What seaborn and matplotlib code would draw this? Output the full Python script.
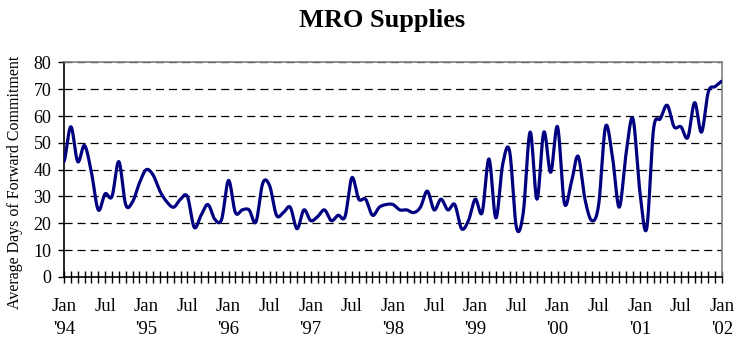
import numpy as np
import pandas as pd
import matplotlib
matplotlib.use("Agg")
import matplotlib.pyplot as plt
import seaborn as sns

# ---- data (monthly, Jan 1994 .. Jan 2002) ----
values_1994 = [43, 56, 43, 49, 39, 25, 31, 30, 43, 27, 28, 35]
values_1995 = [40, 38, 32, 28, 26, 29, 30, 18.5, 23, 27, 21.5, 21.5]
values_1996 = [36, 24, 25, 25, 20.5, 35, 34, 23, 24, 26, 18, 25]
values_1997 = [21, 22.5, 25, 21, 23, 22.5, 37, 29, 29, 23, 26, 27]
values_1998 = [27, 25, 25, 24, 26, 32, 25, 29, 25, 27, 18, 21]
values_1999 = [29, 24, 44, 22, 42, 47, 18.5, 24, 54, 29, 54, 39]
values_2000 = [56, 27.5, 35, 45, 29, 21, 27, 56, 45, 26, 46, 59]
values_2001 = [32, 18, 55, 59, 64, 56, 56, 52, 65, 54, 69, 71]
values_2002 = [73]

years = ["'94", "'95", "'96", "'97", "'98", "'99", "'00", "'01", "'02"]

values = (values_1994 + values_1995 + values_1996 + values_1997 + values_1998
          + values_1999 + values_2000 + values_2001 + values_2002)
months = np.arange(len(values))

# smoothed rendering of the line (like a spreadsheet "smoothed line")
def catmull_rom(x, y, n=20):
    xs, ys = [], []
    N = len(y)
    for i in range(N - 1):
        p0 = y[max(i - 1, 0)]
        p1 = y[i]
        p2 = y[i + 1]
        p3 = y[min(i + 2, N - 1)]
        t = np.linspace(0, 1, n, endpoint=False)
        yy = 0.5 * ((2 * p1) + (-p0 + p2) * t + (2 * p0 - 5 * p1 + 4 * p2 - p3) * t ** 2
                    + (-p0 + 3 * p1 - 3 * p2 + p3) * t ** 3)
        xx = x[i] + (x[i + 1] - x[i]) * t
        xs.append(xx)
        ys.append(yy)
    xs.append([x[-1]])
    ys.append([y[-1]])
    return np.concatenate(xs), np.concatenate(ys)

sx, sy = catmull_rom(months.astype(float), np.array(values, dtype=float))
df = pd.DataFrame({"month": sx, "value": sy})

sns.set_style("white")
plt.rcParams["font.family"] = ["Liberation Serif", "DejaVu Serif"]
plt.rcParams["lines.scale_dashes"] = False
plt.rcParams["text.color"] = "black"
plt.rcParams["xtick.color"] = "black"
plt.rcParams["ytick.color"] = "black"
plt.rcParams["axes.labelcolor"] = "black"

fig = plt.figure(figsize=(7.44, 3.39), dpi=100)
ax = fig.add_axes([0.086, 0.183, 0.8845, 0.633])

# grid
for v in range(10, 90, 10):
    ax.axhline(v, color="black", lw=0.9, linestyle=(0, (5.8, 3.6)), zorder=1)

sns.lineplot(data=df, x="month", y="value", ax=ax, color="#000080",
             linewidth=2.3, sort=False, zorder=3)

ax.set_xlim(0, 96)
ax.set_ylim(0, 80)
ax.set_yticks(range(0, 81, 10))
ax.set_yticklabels([str(v) for v in range(0, 81, 10)], fontsize=13)

xt = list(range(0, 97))
xl = []
for m in xt:
    if m % 12 == 0:
        xl.append("Jan\n" + years[m // 12])
    elif m % 12 == 6:
        xl.append("Jul")
    else:
        xl.append("")
ax.set_xticks(xt)
ax.set_xticklabels(xl, fontsize=13.5, linespacing=1.4, va="top")
ax.tick_params(axis="x", bottom=True, direction="inout", length=9, width=1,
               color="black", pad=11)
ax.tick_params(axis="y", left=True, direction="out", length=4, width=1,
               color="black", pad=5)

for s in ["left", "bottom"]:
    ax.spines[s].set_color("black")
    ax.spines[s].set_linewidth(1.2)
for s in ["top", "right"]:
    ax.spines[s].set_color("#808080")
    ax.spines[s].set_linewidth(1.2)

ax.set_xlabel("")
ax.set_ylabel("Average Days of Forward Commitment", fontsize=11.5)
ax.yaxis.set_label_coords(-0.062, 0.44)
fig.text(0.514, 0.94, "MRO Supplies", ha="center", va="center",
         fontsize=19, fontweight="bold")

fig.savefig("out.png", dpi=100)
